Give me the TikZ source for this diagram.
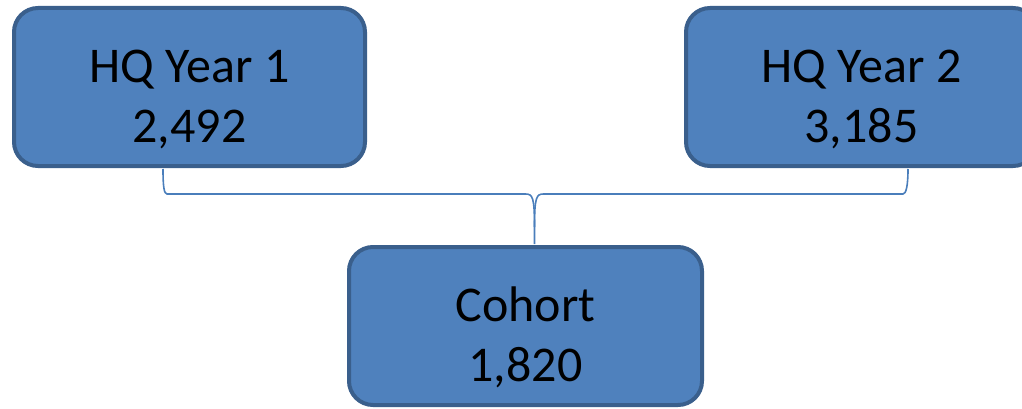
\documentclass[tikz,border=0pt]{standalone}
\usepackage{fontspec}
\setmainfont{Carlito}
\usetikzlibrary{calc}
\definecolor{boxfill}{HTML}{4F81BD}
\definecolor{boxedge}{HTML}{3A5F8C}
\definecolor{linkblue}{HTML}{4A7EBB}
\newcommand{\boxtext}[3]{\raisebox{#1}[0pt][0pt]{\begin{tabular}[t]{@{}c@{}}#2\\#3\end{tabular}}}
\begin{document}
\begin{tikzpicture}[x=1pt,y=-1pt,
  countbox/.style={rectangle, rounded corners=24pt, draw=boxedge, line width=4pt,
    fill=boxfill, minimum width=351pt, minimum height=158pt, inner sep=0pt,
    font=\fontsize{50}{60}\selectfont},
  brace/.style={draw=linkblue, line width=1.6pt}]
  \useasboundingbox (0,0) rectangle (1022,409);
  \clip (0,0) rectangle (1022,409);

  % the two yearly counts and the combined cohort
  \node[countbox] (hq1) at (189.5,87) {\boxtext{4pt}{HQ Year 1}{2,492}};
  \node[countbox] (hq2) at (861.5,87) {\boxtext{4pt}{HQ Year 2}{3,185}};
  \node[countbox, minimum width=353pt] (cohort) at (525.5,326) {\boxtext{5pt}{Cohort}{1,820}};

  % brace joining both years into the cohort
  \coordinate (l) at ($(hq1.south)+(-26.5,1)$);
  \coordinate (r) at ($(hq2.south)+(46.5,1)$);
  \coordinate (tip) at ($(cohort.north)+(9,-1)$);
  \draw[brace] (l) .. controls +(0,17) and +(-3,0) .. ++(4,25) coordinate (lk)
    -- ($(tip |- lk)+(-9,0)$) .. controls +(7,0) and +(0,-30) .. ($(tip)+(0,-17)$) -- (tip);
  \draw[brace] (r) .. controls +(0,17) and +(3,0) .. ++(-5,25) coordinate (rk)
    -- ($(tip |- rk)+(9,0)$) .. controls +(-7,0) and +(0,-30) .. ($(tip)+(0,-17)$);
\end{tikzpicture}
\end{document}
